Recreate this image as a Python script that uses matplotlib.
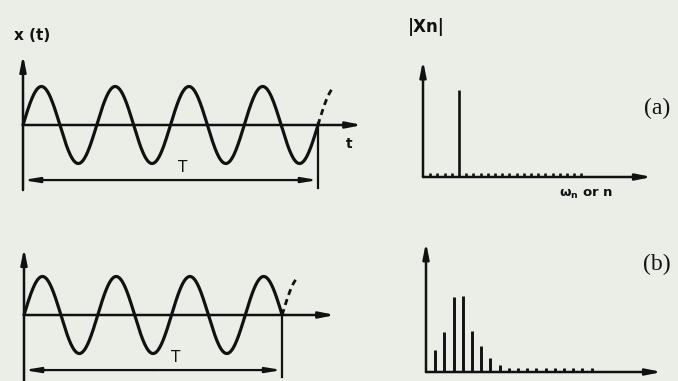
import numpy as np
import matplotlib
matplotlib.use("Agg")
import matplotlib.pyplot as plt

# ---- data ----
cycles_a = 4.0          # periods inside the window T, panel (a)
cycles_b = 3.5          # periods inside the window T, panel (b)
amplitude = 1.0
spec_a_n = list(range(1, 23))
spec_a_amp = [0.05, 0.05, 0.05, 0.05, 1.0, 0.05, 0.05, 0.05, 0.05, 0.05, 0.05,
              0.05, 0.05, 0.05, 0.05, 0.05, 0.05, 0.05, 0.05, 0.05, 0.05, 0.05]
spec_b_n = list(range(1, 19))
spec_b_amp = [0.25, 0.46, 0.86, 0.87, 0.47, 0.30, 0.16, 0.08, 0.05, 0.05, 0.05, 0.05,
              0.05, 0.05, 0.05, 0.05, 0.05, 0.05]

W, H = 678, 381
BG = "#eaeee7"
INK = "#111111"

fig = plt.figure(figsize=(W / 100, H / 100), dpi=100, facecolor=BG)


def px_axes(bbox, origin, sx, sy):
    bx0, by0, bx1, by1 = bbox
    ax = fig.add_axes([bx0 / W, 1 - by1 / H, (bx1 - bx0) / W, (by1 - by0) / H])
    x0, y0 = origin
    ax.set_xlim((bx0 - x0) / sx, (bx1 - x0) / sx)
    ax.set_ylim((y0 - by1) / sy, (y0 - by0) / sy)
    ax.axis("off")
    return ax


def arrow(ax, p0, p1, lw=1.8, style="-|>,head_length=0.9,head_width=0.18"):
    ax.annotate("", xy=p1, xytext=p0,
                arrowprops=dict(arrowstyle=style, lw=lw, color=INK,
                                shrinkA=0, shrinkB=0), annotation_clip=False)


def ftext(x, y, s, **kw):
    fig.text(x / W, 1 - y / H, s, color=INK, ha="center", va="center", **kw)


def time_panel(ax, cycles, yaxis_bottom, yaxis_top, xaxis_end, vline_bottom):
    t = np.linspace(0, cycles, 600)
    ax.plot(t, amplitude * np.sin(2 * np.pi * t), color=INK, lw=2.3, solid_capstyle="round")
    # periodic extension (dashed)
    te = np.linspace(cycles, cycles + 0.21, 40)
    ax.plot(te, amplitude * np.sin(2 * np.pi * (te - cycles)), color=INK, lw=2.0,
            ls=(0, (2.2, 1.6)))
    arrow(ax, (0, yaxis_bottom), (0, yaxis_top))
    arrow(ax, (0, 0), (xaxis_end, 0))
    ax.plot([cycles, cycles], [0.05, vline_bottom], color=INK, lw=1.6)
    arrow(ax, (cycles / 2, -1.43), (0, -1.43), lw=1.6,
          style="-|>,head_length=0.9,head_width=0.15")
    arrow(ax, (cycles / 2, -1.43), (cycles, -1.43), lw=1.6,
          style="-|>,head_length=0.9,head_width=0.15")


# ---- panel (a) time ----
axa = px_axes((0, 0, 375, 200), (23, 125), 73.75, 38.5)
time_panel(axa, cycles_a, -1.69, 1.82, 4.6, -1.64)
axa.text(2.16, -1.10, "T", ha="center", va="center", fontsize=11, color=INK)

# ---- panel (b) time ----
axb = px_axes((0, 200, 375, 381), (24, 315), 73.75, 38.5)
time_panel(axb, cycles_b, -1.75, 1.74, 4.22, -1.61)
axb.text(2.06, -1.10, "T", ha="center", va="center", fontsize=11, color=INK)

# ---- panel (a) spectrum ----
sa = px_axes((390, 30, 678, 200), (423, 177), 7.2, 87)
sa.vlines(spec_a_n, 0, spec_a_amp, color=INK, lw=1.9)
arrow(sa, (0, 0), (0, 1.34))
arrow(sa, (0, 0), (31.8, 0))

# ---- panel (b) spectrum ----
sb = px_axes((390, 220, 678, 381), (426, 372), 9.2, 87)
sb.vlines(spec_b_n, 0, spec_b_amp, color=INK, lw=2.1)
arrow(sb, (0, 0), (0, 1.49))
arrow(sb, (0, 0), (25.65, 0))

# ---- labels ----
ftext(32, 36, "x (t)", fontsize=11, fontweight="bold")
ftext(349, 144, "t", fontsize=10, fontweight="bold")
ftext(426, 27, "|Xn|", fontsize=12, fontweight="bold")
ftext(586, 194, r"$\mathbf{\omega_n}$" + " or n", fontsize=9.5, fontweight="bold")
ftext(657, 108, "(a)", fontsize=17, family="Liberation Serif")
ftext(657, 264, "(b)", fontsize=17, family="Liberation Serif")

fig.savefig("out.png", dpi=100, facecolor=BG)
